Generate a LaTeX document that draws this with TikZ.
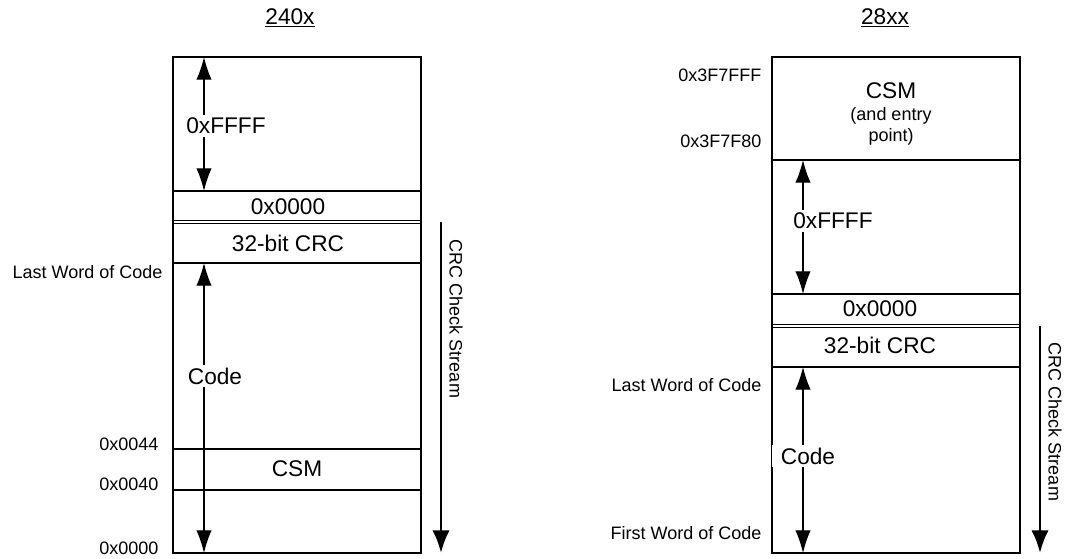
\documentclass[tikz,border=0pt]{standalone}
\usepackage{fontspec}
\setmainfont{Liberation Sans}
\usetikzlibrary{positioning,calc,arrows.meta}
\tikzset{>={Latex[length=17pt,width=11.5pt]}}
\tikzset{mem/.style={draw,line width=1pt}}
\tikzset{big/.style={font=\fontsize{17}{19}\selectfont,inner sep=1pt}}
\tikzset{small/.style={font=\fontsize{13.5}{15}\selectfont,inner sep=1pt}}
\tikzset{addr/.style={small,anchor=east}}
\tikzset{span/.style={<->,line width=0.9pt}}
\tikzset{stream/.style={-{Latex[length=17pt,width=13pt]},line width=2pt}}
\tikzset{gap/.style={fill=white,inner sep=2pt}}

\begin{document}
\begin{tikzpicture}[x=0.75pt,y=-0.75pt]
	\useasboundingbox (0,0) rectangle (1070,558);

	% 240x
	\node[big] (tA) at (290,18) {\underline{240x}};
	\draw[mem] (173,57) rectangle (421,553);
	\draw[mem] (173,191) -- (421,191);
	\draw[mem,line width=0.8pt] (173,220.6) -- (421,220.6) (173,223.4) -- (421,223.4);
	\draw[mem] (173,263) -- (421,263);
	\draw[mem] (173,449) -- (421,449) (173,490) -- (421,490);
		\coordinate (fA1) at (204,57);
		\coordinate (fA2) at (204,191);
		\coordinate (cA1) at (204,263);
		\coordinate (cA2) at (204,553);
		\coordinate (sA1) at (441,222);
		\coordinate (sA2) at (441,553);

		\draw[span] (fA1) -- (fA2);
		\draw[span] (cA1) -- (cA2);
		\draw[stream] (sA1) -- (sA2);

		\node[big,gap] (ffA) at (226,126) {0xFFFF};
		\node[big,gap] (codeA) at (215,376) {Code};
		\node[big] (zA) at (288,207) {0x0000};
		\node[big] (crcA) at (288,243) {32-bit CRC};
		\node[big] (csmA) at (297,469) {CSM};
		\node[addr] (lastA) at (164,272) {Last Word of Code};
		\node[addr] (a44) at (160,444) {0x0044};
		\node[addr] (a40) at (160,484) {0x0040};
		\node[addr] (a00) at (160,548) {0x0000};
		\node[small,rotate=-90] (chkA) at (456,319) {CRC Check Stream};

	% 28xx
	\node[big] (tB) at (885,18) {\underline{28xx}};
	\draw[mem] (772,57) rectangle (1020,553);
	\draw[mem] (772,160) -- (1020,160);
	\draw[mem] (772,294) -- (1020,294);
	\draw[mem,line width=0.8pt] (772,324.6) -- (1020,324.6) (772,327.4) -- (1020,327.4);
	\draw[mem] (772,367) -- (1020,367);
		\coordinate (fB1) at (803,160);
		\coordinate (fB2) at (803,294);
		\coordinate (cB1) at (803,367);
		\coordinate (cB2) at (803,553);
		\coordinate (sB1) at (1040,326);
		\coordinate (sB2) at (1040,553);

		\draw[span] (fB1) -- (fB2);
		\draw[span] (cB1) -- (cB2);
		\draw[stream] (sB1) -- (sB2);

		\node[big,gap] (ffB) at (833,221) {0xFFFF};
		\node[big,fill=white,inner xsep=7pt,inner ysep=2pt] (codeB) at (808,456) {Code};
		\node[big] (zB) at (880,309) {0x0000};
		\node[big] (crcB) at (880,345) {32-bit CRC};
		\node[big] (csmB) at (891,91) {CSM};
		\node[small] (entB) at (891,116) {(and entry};
		\node[small] (ptB) at (891,137) {point)};
		\node[addr] (topB) at (763,75) {0x3F7FFF};
		\node[addr] (botB) at (763,141) {0x3F7F80};
		\node[addr] (lastB) at (763,385) {Last Word of Code};
		\node[addr] (firstB) at (763,533) {First Word of Code};
		\node[small,rotate=-90] (chkB) at (1055,422) {CRC Check Stream};
\end{tikzpicture}
\end{document}
